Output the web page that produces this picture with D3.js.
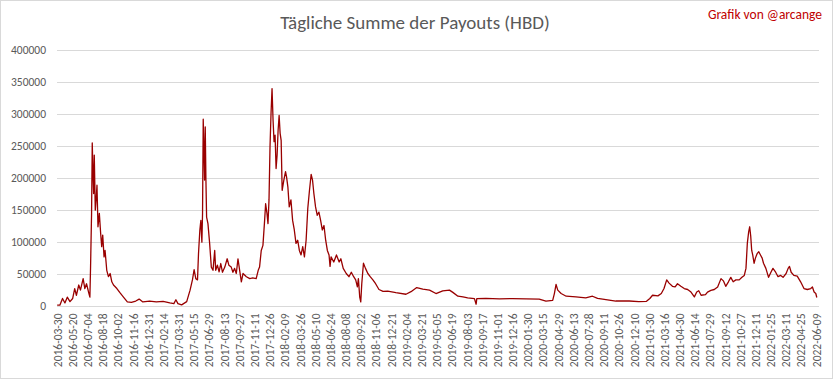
<!DOCTYPE html>
<html>
<head>
<meta charset="utf-8">
<script src="https://cdn.jsdelivr.net/npm/d3@7"></script>
<style>
  body { margin: 0; background: #fff; }
  svg { display: block; }
  text { font-family: Calibri, Carlito, "Liberation Sans", Arial, sans-serif; }
</style>
</head>
<body>
<div id="chart"></div>
<script>
var chartTitle = "Tägliche Summe der Payouts (HBD)";
var creditText = "Grafik von @arcange";

var yTicks = [0, 50000, 100000, 150000, 200000, 250000, 300000, 350000, 400000];

// category labels, one every 45 rows of the source sheet
var tickLabels = [
  "2016-03-30", "2016-05-20", "2016-07-04", "2016-08-18", "2016-10-02", "2016-11-16", "2016-12-31",
  "2017-02-14", "2017-03-31", "2017-05-15", "2017-06-29", "2017-08-13", "2017-09-27", "2017-11-11",
  "2017-12-26", "2018-02-09", "2018-03-26", "2018-05-10", "2018-06-24", "2018-08-08", "2018-09-22",
  "2018-11-06", "2018-12-21", "2019-02-04", "2019-03-21", "2019-05-05", "2019-06-19", "2019-08-03",
  "2019-09-17", "2019-11-01", "2019-12-16", "2020-01-30", "2020-03-15", "2020-04-29", "2020-06-13",
  "2020-07-28", "2020-09-11", "2020-10-26", "2020-12-10", "2021-01-30", "2021-03-16", "2021-04-30",
  "2021-06-14", "2021-07-29", "2021-09-12", "2021-10-27", "2021-12-11", "2022-01-25", "2022-03-11",
  "2022-04-25", "2022-06-09"
];

var payoutDates = [
  "2016-03-30", "2016-04-08", "2016-04-17", "2016-04-25", "2016-05-03", "2016-05-12", "2016-05-21", "2016-05-27",
  "2016-06-01", "2016-06-08", "2016-06-13", "2016-06-21", "2016-06-26", "2016-07-01", "2016-07-08", "2016-07-11",
  "2016-07-13", "2016-07-16", "2016-07-18", "2016-07-20", "2016-07-22", "2016-07-24", "2016-07-27", "2016-07-30",
  "2016-08-01", "2016-08-04", "2016-08-08", "2016-08-12", "2016-08-15", "2016-08-18", "2016-08-22", "2016-08-25",
  "2016-08-30", "2016-09-04", "2016-09-09", "2016-09-14", "2016-09-19", "2016-09-29", "2016-10-08", "2016-10-18",
  "2016-10-30", "2016-11-11", "2016-11-24", "2016-12-04", "2016-12-15",
  "2017-01-04", "2017-01-24", "2017-02-13", "2017-03-05", "2017-03-17", "2017-03-23", "2017-03-29", "2017-04-09",
  "2017-04-24", "2017-05-04", "2017-05-11", "2017-05-16", "2017-05-21", "2017-05-26", "2017-05-29", "2017-06-02",
  "2017-06-05", "2017-06-08", "2017-06-10", "2017-06-12", "2017-06-14", "2017-06-16", "2017-06-18", "2017-06-20",
  "2017-06-22", "2017-06-26", "2017-07-01", "2017-07-06", "2017-07-11", "2017-07-16", "2017-07-19", "2017-07-24",
  "2017-07-29", "2017-08-03", "2017-08-08", "2017-08-15", "2017-08-22", "2017-08-27", "2017-09-03", "2017-09-08",
  "2017-09-13", "2017-09-18", "2017-09-23", "2017-09-28", "2017-10-03", "2017-10-08", "2017-10-18", "2017-10-28",
  "2017-11-06", "2017-11-16", "2017-11-22", "2017-11-26", "2017-12-01", "2017-12-06", "2017-12-11", "2017-12-14",
  "2017-12-18", "2017-12-21", "2017-12-24", "2017-12-27", "2017-12-30",
  "2018-01-02", "2018-01-05", "2018-01-08", "2018-01-11", "2018-01-14", "2018-01-17", "2018-01-20", "2018-01-23",
  "2018-01-26", "2018-01-29", "2018-02-01", "2018-02-06", "2018-02-11", "2018-02-14", "2018-02-18", "2018-02-22",
  "2018-02-27", "2018-03-04", "2018-03-09", "2018-03-14", "2018-03-19", "2018-03-24", "2018-03-29", "2018-04-03",
  "2018-04-08", "2018-04-13", "2018-04-18", "2018-04-23", "2018-04-28", "2018-05-02", "2018-05-06", "2018-05-11",
  "2018-05-16", "2018-05-21", "2018-05-26", "2018-05-31", "2018-06-05", "2018-06-10", "2018-06-15", "2018-06-20",
  "2018-06-23", "2018-06-26", "2018-07-04", "2018-07-12", "2018-07-20", "2018-07-25", "2018-08-01", "2018-08-10",
  "2018-08-18", "2018-08-25", "2018-09-01", "2018-09-07", "2018-09-12", "2018-09-15", "2018-09-19", "2018-09-22",
  "2018-09-25", "2018-09-30", "2018-10-06", "2018-10-13", "2018-10-20", "2018-10-28", "2018-11-05", "2018-11-15",
  "2018-11-27", "2018-12-11",
  "2019-01-04", "2019-02-03", "2019-02-18", "2019-03-07", "2019-03-25", "2019-04-14", "2019-05-03", "2019-05-23",
  "2019-06-12", "2019-06-22", "2019-07-07", "2019-07-22", "2019-08-05", "2019-08-25", "2019-08-30", "2019-09-01",
  "2019-09-28", "2019-11-07", "2019-12-16",
  "2020-01-25", "2020-03-04", "2020-03-24", "2020-04-13", "2020-04-18", "2020-04-23", "2020-04-28", "2020-05-08",
  "2020-05-23", "2020-06-21", "2020-07-20", "2020-08-09", "2020-08-24", "2020-09-08", "2020-10-17", "2020-11-26",
  "2020-12-26",
  "2021-01-21", "2021-02-01", "2021-02-09", "2021-02-25", "2021-03-07", "2021-03-15", "2021-03-23", "2021-03-30",
  "2021-04-09", "2021-04-17", "2021-04-24", "2021-05-04", "2021-05-14", "2021-05-24", "2021-06-03", "2021-06-13",
  "2021-06-20", "2021-06-26", "2021-07-03", "2021-07-16", "2021-07-22", "2021-08-01", "2021-08-11", "2021-08-21",
  "2021-08-31", "2021-09-07", "2021-09-14", "2021-09-22", "2021-09-29", "2021-10-06", "2021-10-14", "2021-10-24",
  "2021-11-01", "2021-11-08", "2021-11-13", "2021-11-17", "2021-11-21", "2021-11-24", "2021-11-27", "2021-11-30",
  "2021-12-03", "2021-12-07", "2021-12-11", "2021-12-16", "2021-12-21", "2021-12-26", "2021-12-31",
  "2022-01-04", "2022-01-11", "2022-01-19", "2022-01-26", "2022-02-01", "2022-02-09", "2022-02-16", "2022-02-24",
  "2022-03-03", "2022-03-12", "2022-03-18", "2022-03-22", "2022-03-27", "2022-04-04", "2022-04-14", "2022-04-24",
  "2022-05-04", "2022-05-14", "2022-05-24", "2022-05-29", "2022-06-03", "2022-06-08", "2022-06-11"
];

var payoutValues = [
  500, 500, 11000, 4000, 13000, 6000, 11000, 26500,
  16000, 32000, 24000, 42000, 26500, 34000, 19000, 13000,
  60000, 144000, 254000, 211000, 175000, 235000, 149000, 170000,
  188000, 123000, 144000, 112000, 92000, 110000, 76000, 86000,
  55000, 45000, 50000, 37000, 32000, 26500, 20000, 13500,
  5600, 5000, 7000, 10000, 5600,
  7000, 5600, 6500, 4000, 3000, 9000, 3000, 1000,
  6000, 24000, 40000, 56000, 42000, 40000, 81000, 118000,
  133000, 99000, 144000, 291000, 248000, 196000, 279000, 196000,
  138000, 128000, 97000, 60000, 55000, 86000, 55000, 63000,
  52500, 65600, 52000, 60000, 73000, 63000, 60000, 52000,
  58000, 50000, 73000, 55000, 37000, 50000, 45000, 42000,
  43000, 42000, 55000, 60000, 86000, 94000, 133000, 159000,
  144000, 128000, 165000, 248000, 300000,
  339000, 290000, 256000, 266000, 214000, 235000, 274000, 297000,
  269000, 258000, 180000, 196000, 209000, 201000, 185000, 154000,
  165000, 133000, 118000, 97000, 102000, 86000, 79000, 92000,
  76000, 102000, 152000, 180000, 205000, 196000, 175000, 154000,
  141000, 146000, 133000, 118000, 125000, 102000, 86000, 79000,
  61000, 76000, 68000, 79000, 68000, 73000, 58000, 50000,
  45000, 52000, 45000, 40000, 29000, 42000, 13000, 5600,
  34000, 66000, 58000, 50000, 45000, 40000, 34000, 25000,
  22000, 22500,
  20000, 17600, 21600, 28000, 25500, 24000, 18700, 23000,
  24000, 20500, 14500, 13500, 12000, 10800, 2000, 10800,
  11000, 10500, 10800,
  10500, 10000, 6700, 8000, 18700, 33000, 24000, 18700,
  14500, 13500, 12000, 14500, 11000, 9800, 7000, 7000,
  6000,
  6500, 11000, 16000, 15000, 18700, 26500, 40000, 35000,
  30000, 29000, 34000, 30000, 26500, 25000, 21000, 13500,
  21000, 23000, 16000, 17000, 21000, 23500, 25000, 29000,
  42000, 38500, 30000, 37000, 44000, 37000, 40000, 40000,
  44000, 47000, 58000, 97000, 115000, 123000, 109000, 86000,
  79000, 66000, 74000, 81000, 84000, 79000, 74000,
  66000, 58000, 44000, 52000, 58000, 52000, 45000, 47000,
  44000, 50000, 58000, 61000, 52000, 47000, 46000, 37000,
  26500, 25000, 26500, 29000, 21000, 18700, 12500
];

function PayoutChart(params) {

  var attrs = Object.assign({
    container: '#chart',
    width: 833,
    height: 379,
    plotLeft: 57,
    plotRight: 819,
    plotTop: 49.5,
    plotBottom: 305.5,
    categoryStep: 45,
    lineColor: '#990000',
    gridColor: '#d9d9d9',
    textColor: '#595959'
  }, params);

  var parseDate = d3.timeParse('%Y-%m-%d');

  function main() {
    var svg = d3.select(attrs.container).append('svg')
      .attr('width', attrs.width)
      .attr('height', attrs.height);

    // chart area border
    svg.append('rect')
      .attr('x', 0.5).attr('y', 0.5)
      .attr('width', attrs.width - 1).attr('height', attrs.height - 1)
      .attr('fill', '#fff')
      .attr('stroke', attrs.gridColor);

    // category axis: labels sit every 45 rows, dates map piecewise onto rows
    var tickIndex = tickLabels.map(function (d, i) { return i * attrs.categoryStep; });
    var lastIndex = tickIndex[tickIndex.length - 1];

    var rowScale = d3.scaleTime()
      .domain(tickLabels.map(parseDate))
      .range(tickIndex);

    var x = d3.scaleLinear()
      .domain([-0.5, lastIndex + 8.5])
      .range([attrs.plotLeft, attrs.plotRight]);

    var y = d3.scaleLinear()
      .domain([0, 400000])
      .range([attrs.plotBottom, attrs.plotTop]);

    // gridlines
    svg.append('g').selectAll('line')
      .data(yTicks)
      .join('line')
      .attr('x1', attrs.plotLeft)
      .attr('x2', attrs.plotRight)
      .attr('y1', function (d) { return Math.round(y(d)) + 0.5; })
      .attr('y2', function (d) { return Math.round(y(d)) + 0.5; })
      .attr('stroke', attrs.gridColor)
      .attr('stroke-width', 1);

    var yAxis = svg.append('g')
      .attr('transform', 'translate(' + attrs.plotLeft + ',0)')
      .call(d3.axisLeft(y).tickValues(yTicks).tickSize(0).tickPadding(11).tickFormat(d3.format('d')));
    yAxis.select('.domain').remove();
    yAxis.selectAll('text')
      .attr('fill', attrs.textColor)
      .style('font-size', '11.5px');

    var xAxis = svg.append('g')
      .attr('transform', 'translate(0,' + (Math.round(attrs.plotBottom) + 0.5) + ')')
      .call(d3.axisBottom(x).tickValues(tickIndex).tickSize(0)
        .tickFormat(function (d, i) { return tickLabels[i]; }));
    xAxis.select('.domain').remove();
    xAxis.selectAll('text')
      .attr('transform', 'rotate(-90)')
      .attr('x', -7)
      .attr('y', 0)
      .attr('dy', '0.35em')
      .attr('fill', attrs.textColor)
      .style('text-anchor', 'end')
      .style('font-size', '11.5px');

    var points = payoutDates.map(function (d, i) {
      return { row: rowScale(parseDate(d)), value: payoutValues[i] };
    });

    var line = d3.line()
      .x(function (d) { return x(d.row); })
      .y(function (d) { return y(d.value); });

    svg.append('path')
      .datum(points)
      .attr('d', line)
      .attr('fill', 'none')
      .attr('stroke', attrs.lineColor)
      .attr('stroke-width', 1.3)
      .attr('stroke-linejoin', 'round');

    svg.append('text')
      .attr('x', 415)
      .attr('y', 29)
      .attr('text-anchor', 'middle')
      .attr('fill', attrs.textColor)
      .style('font-size', '19px')
      .text(chartTitle);

    svg.append('text')
      .attr('x', 822)
      .attr('y', 19)
      .attr('text-anchor', 'end')
      .attr('fill', '#c00000')
      .style('font-size', '13.5px')
      .text(creditText);
  }

  main.render = function () {
    main();
    return main;
  };

  return main;
}

PayoutChart().render();
</script>
</body>
</html>
